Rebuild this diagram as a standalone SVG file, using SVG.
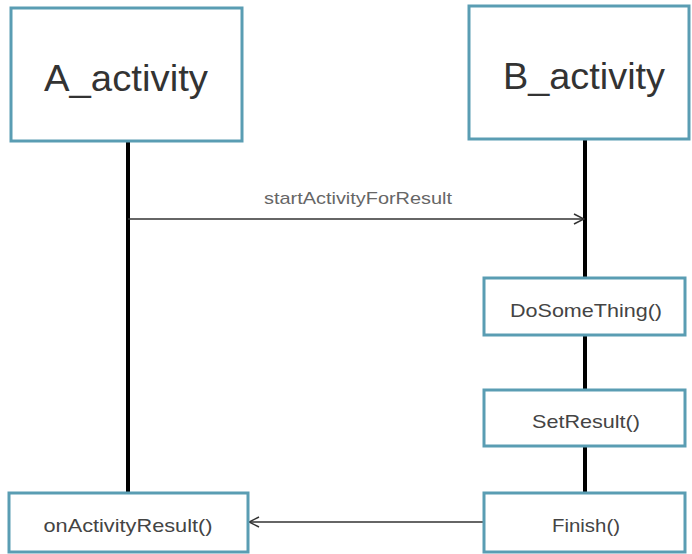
<svg xmlns="http://www.w3.org/2000/svg" width="692" height="554" viewBox="0 0 692 554">
  <defs>
    <style>
      .box { fill: #ffffff; stroke: #5a9db3; stroke-width: 3; }
      .life { stroke: #000000; stroke-width: 4; fill: none; }
      .msg { stroke: #333333; stroke-width: 1.5; fill: none; }
      .big { font-family: "Liberation Sans", Arial, sans-serif; font-size: 36px; fill: #333333; text-anchor: middle; }
      .lbl { font-family: "Liberation Sans", Arial, sans-serif; font-size: 19px; fill: #444444; text-anchor: middle; }
      .call { font-family: "Liberation Sans", Arial, sans-serif; font-size: 17px; fill: #666666; text-anchor: middle; }
    </style>
    <marker id="open" viewBox="0 0 12 12" refX="11" refY="6" markerWidth="12" markerHeight="12" markerUnits="userSpaceOnUse" orient="auto">
      <path d="M1,1 L11,6 L1,11" fill="none" stroke="#333333" stroke-width="1.5"/>
    </marker>
  </defs>

  <!-- lifelines and messages -->
  <g id="connectors">
    <line class="life" x1="128" y1="141" x2="128" y2="493"/>
    <line class="life" x1="585" y1="139" x2="585" y2="493"/>
    <line class="msg" x1="128" y1="219" x2="584" y2="219" marker-end="url(#open)"/>
    <text class="call" x="358" y="204" textLength="188" lengthAdjust="spacingAndGlyphs">startActivityForResult</text>
    <line class="msg" x1="484" y1="522" x2="249" y2="522" marker-end="url(#open)"/>
  </g>

  <g id="a_activity">
    <rect class="box" x="11" y="8" width="231" height="133"/>
    <text class="big" x="126" y="91" textLength="164" lengthAdjust="spacingAndGlyphs">A_activity</text>
  </g>

  <g id="b_activity">
    <rect class="box" x="469" y="6" width="220" height="133"/>
    <text class="big" x="584" y="89" textLength="162" lengthAdjust="spacingAndGlyphs">B_activity</text>
  </g>

  <g id="do_some_thing">
    <rect class="box" x="484" y="278" width="201" height="57"/>
    <text class="lbl" x="586" y="317" textLength="152" lengthAdjust="spacingAndGlyphs">DoSomeThing()</text>
  </g>

  <g id="set_result">
    <rect class="box" x="484" y="390" width="201" height="56"/>
    <text class="lbl" x="586" y="428" textLength="108" lengthAdjust="spacingAndGlyphs">SetResult()</text>
  </g>

  <g id="on_activity_result">
    <rect class="box" x="9" y="493" width="239" height="59"/>
    <text class="lbl" x="128" y="532" textLength="169" lengthAdjust="spacingAndGlyphs">onActivityResult()</text>
  </g>

  <g id="finish">
    <rect class="box" x="484" y="493" width="201" height="59"/>
    <text class="lbl" x="586" y="532" textLength="68" lengthAdjust="spacingAndGlyphs">Finish()</text>
  </g>
</svg>
